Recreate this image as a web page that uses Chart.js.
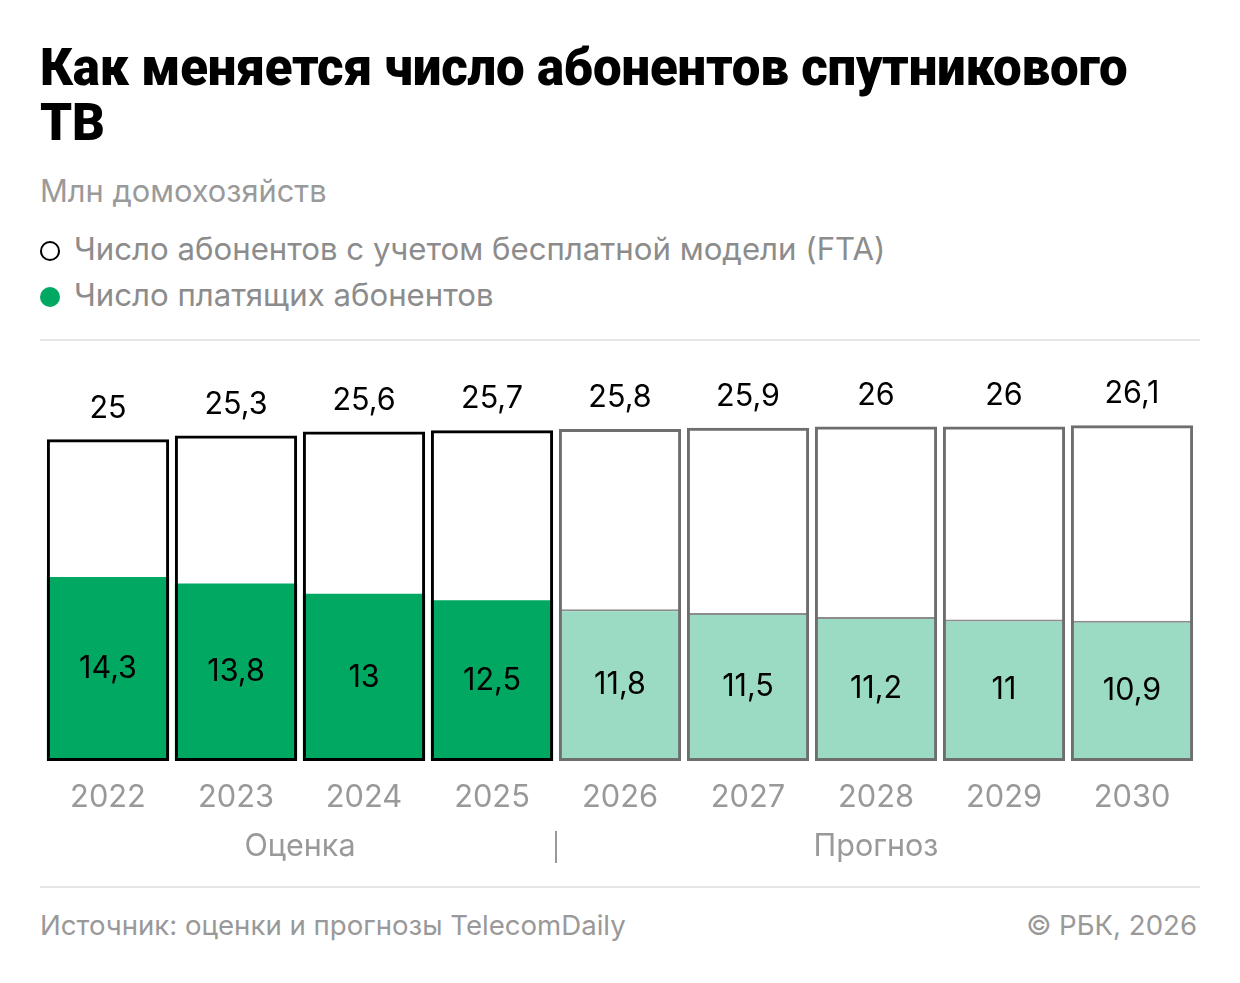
<!DOCTYPE html>
<html lang="ru">
<head>
<meta charset="utf-8">
<script src="https://cdn.jsdelivr.net/npm/chart.js@4"></script>
<style>
  body { margin: 0; background: #fff; font-family: Inter, Roboto, "Noto Sans", sans-serif; }
  .page { position: relative; width: 1240px; height: 983px; }
  h1 { position: absolute; left: 40px; top: 40px; width: 1110px; margin: 0;
       font-family: Roboto, sans-serif;
       font-size: 51px; line-height: 55px; font-weight: 900; color: #000; letter-spacing: -0.2px; }
  .sub { position: absolute; left: 40px; top: 172px; font-size: 30.8px; color: #9a9a9a; }
  .leg { position: absolute; left: 40px; font-size: 31.2px; color: #8c8c8c; }
  .leg i { display: inline-block; width: 20px; height: 20px; border-radius: 50%;
           box-sizing: border-box; margin-right: 14px; vertical-align: -1px; }
  .rule { position: absolute; left: 40px; width: 1160px; height: 2px; background: #e6e6e6; }
  .foot { position: absolute; top: 908px; font-size: 27.6px; color: #999; }
  #wrap { position: absolute; left: 40px; top: 350px; width: 1160px; height: 532px; }
</style>
</head>
<body>
<div class="page">
  <h1>Как меняется число абонентов спутникового ТВ</h1>
  <div class="sub">Млн домохозяйств</div>
  <div class="leg" style="top:230px"><i style="border:2px solid #000"></i>Число абонентов с учетом бесплатной модели (FTA)</div>
  <div class="leg" style="top:276px"><i style="background:#00a862"></i>Число платящих абонентов</div>
  <div class="rule" style="top:339px"></div>
  <div id="wrap"><canvas id="chart"></canvas></div>
  <div class="rule" style="top:886px"></div>
  <div class="foot" style="left:40px">Источник: оценки и прогнозы TelecomDaily</div>
  <div class="foot" style="right:43px">© РБК, 2026</div>
</div>
<script>
const years = ["2022", "2023", "2024", "2025", "2026", "2027", "2028", "2029", "2030"];
const totalSubs = [25, 25.3, 25.6, 25.7, 25.8, 25.9, 26, 26, 26.1];
const paidSubs = [14.3, 13.8, 13, 12.5, 11.8, 11.5, 11.2, 11, 10.9];
const isForecast = [false, false, false, false, true, true, true, true, true];
const groups = [
  { label: "Оценка", from: 0, to: 3 },
  { label: "Прогноз", from: 4, to: 8 }
];

const fmt = v => String(v).replace(".", ",");

// подписи значений и группы под осью
const labelsPlugin = {
  id: "labels",
  afterDatasetsDraw(chart) {
    const ctx = chart.ctx;
    const x = chart.scales.x;
    const y = chart.scales.y;
    ctx.save();
    ctx.textAlign = "center";
    ctx.textBaseline = "middle";
    ctx.font = "30.5px Inter";
    ctx.fillStyle = "#000";
    years.forEach((yr, i) => {
      const cx = x.getPixelForValue(i);
      ctx.fillText(fmt(totalSubs[i]), cx, y.getPixelForValue(totalSubs[i]) - 31);
      const mid = (y.getPixelForValue(paidSubs[i]) + y.getPixelForValue(0)) / 2;
      ctx.fillText(fmt(paidSubs[i]), cx, mid);
    });
    // группы
    const gy = y.getPixelForValue(0) + 86;
    ctx.font = "30.5px Inter";
    ctx.fillStyle = "#999";
    groups.forEach(g => {
      const cx = (x.getPixelForValue(g.from) + x.getPixelForValue(g.to)) / 2;
      ctx.fillText(g.label, cx, gy);
    });
    const sep = (x.getPixelForValue(3) + x.getPixelForValue(4)) / 2;
    ctx.strokeStyle = "#999";
    ctx.lineWidth = 2;
    ctx.beginPath();
    ctx.moveTo(sep, gy - 16);
    ctx.lineTo(sep, gy + 16);
    ctx.stroke();
    ctx.restore();
  }
};

new Chart(document.getElementById("chart"), {
  type: "bar",
  data: {
    labels: years,
    datasets: [
      {
        label: "Число абонентов с учетом бесплатной модели (FTA)",
        data: totalSubs,
        backgroundColor: "rgba(0,0,0,0)",
        borderColor: isForecast.map(f => f ? "#6e6e6e" : "#000"),
        borderWidth: 3,
        borderSkipped: false,
        order: 0
      },
      {
        label: "Число платящих абонентов",
        data: paidSubs,
        backgroundColor: isForecast.map(f => f ? "#9bdbc3" : "#00a862"),
        borderColor: isForecast.map(f => f ? "#8c8c8c" : "#00a862"),
        borderWidth: isForecast.map(f => f ? 2 : 0),
        borderSkipped: false,
        order: 1
      }
    ]
  },
  options: {
    responsive: true,
    maintainAspectRatio: false,
    animation: false,
    datasets: { bar: { grouped: false, categoryPercentage: 1, barPercentage: 0.955 } },
    layout: { padding: { top: 25, left: 4, right: 4, bottom: 0 } },
    plugins: { legend: { display: false }, tooltip: { enabled: false } },
    scales: {
      x: {
        grid: { display: false, drawTicks: false },
        border: { display: false },
        ticks: { color: "#999", font: { family: "Inter", size: 30.8 }, padding: 18 },
        afterFit(scale) { scale.height = 121; }
      },
      y: { display: false, min: 0, max: 30 }
    }
  },
  plugins: [labelsPlugin]
});
</script>
</body>
</html>
